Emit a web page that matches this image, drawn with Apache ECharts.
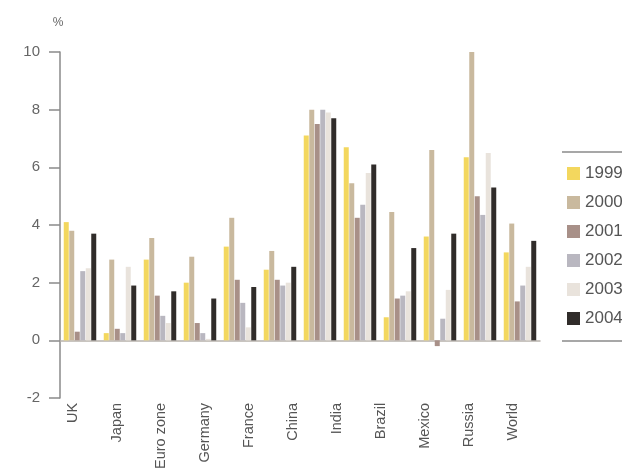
<!DOCTYPE html>
<html>
<head>
<meta charset="utf-8">
<script src="https://cdn.jsdelivr.net/npm/echarts@6/dist/echarts.min.js"></script>
<style>html,body{margin:0;padding:0;background:#fff;}#c{width:622px;height:472px;}</style>
</head>
<body>
<div id="c"></div>
<script>
// Bar groups (12 groups drawn) and the 11 tick labels printed under them
const groups = ['g1','g2','g3','g4','g5','g6','g7','g8','g9','g10','g11','g12'];
const tickLabels = ['UK','Japan','Euro zone','Germany','France','China','India','Brazil','Mexico','Russia','World'];
const years = ['1999','2000','2001','2002','2003','2004'];
const yTicks = { min: -2, max: 10, interval: 2 };

const v1999 = [4.1, 0.25, 2.8, 2.0, 3.25, 2.45, 7.1, 6.7, 0.8, 3.6, 6.35, 3.05];
const v2000 = [3.8, 2.8, 3.55, 2.9, 4.25, 3.1, 8.0, 5.45, 4.45, 6.6, 10.0, 4.05];
const v2001 = [0.3, 0.4, 1.55, 0.6, 2.1, 2.1, 7.5, 4.25, 1.45, -0.2, 5.0, 1.35];
const v2002 = [2.4, 0.25, 0.85, 0.25, 1.3, 1.9, 8.0, 4.7, 1.55, 0.75, 4.35, 1.9];
const v2003 = [2.5, 2.55, 0.6, 0.05, 0.45, 2.0, 7.9, 5.8, 1.7, 1.75, 6.5, 2.55];
const v2004 = [3.7, 1.9, 1.7, 1.45, 1.85, 2.55, 7.7, 6.1, 3.2, 3.7, 5.3, 3.45];
const seriesValues = [v1999, v2000, v2001, v2002, v2003, v2004];

const colors = ['#f3d75e', '#c9b99e', '#a89088', '#b9b7c0', '#e9e3dc', '#302c2a'];
const FONT = 'Liberation Sans, Arial, sans-serif';

const chart = echarts.init(document.getElementById('c'), null, { renderer: 'canvas' });
chart.setOption({
  animation: false,
  backgroundColor: '#ffffff',
  color: colors,
  grid: [
    { left: 60, top: 52, width: 480, height: 346 },
    { left: 51, top: 52, width: 484, height: 346 }
  ],
  xAxis: [
    {
      gridIndex: 0, type: 'category', data: groups,
      axisLine: { show: true, onZero: true, lineStyle: { color: '#b8b2ac', width: 1.5 } },
      axisTick: { show: false },
      axisLabel: { show: false },
      splitLine: { show: false }
    },
    {
      gridIndex: 1, type: 'category', data: tickLabels, position: 'bottom',
      axisLine: { show: false }, axisTick: { show: false }, splitLine: { show: false },
      axisLabel: { rotate: 90, margin: 11, fontSize: 14.5, color: '#555', fontFamily: FONT, interval: 0 }
    }
  ],
  yAxis: [
    {
      gridIndex: 0, type: 'value', min: yTicks.min, max: yTicks.max, interval: yTicks.interval,
      name: '%', nameLocation: 'end', nameGap: 23,
      nameTextStyle: { fontSize: 12, color: '#666', fontFamily: FONT, align: 'center', padding: [0, 4, 0, 0] },
      axisLine: { show: true, lineStyle: { color: '#8a8a8a', width: 1.5 } },
      axisTick: { show: true, length: 11, lineStyle: { color: '#8a8a8a', width: 1.5 } },
      axisLabel: { fontSize: 15, color: '#666', fontFamily: FONT, margin: 20 },
      splitLine: { show: false }
    },
    {
      gridIndex: 1, type: 'value', min: yTicks.min, max: yTicks.max, show: false
    }
  ],
  legend: {
    orient: 'vertical', left: 562, top: 160,
    data: years,
    icon: 'rect', itemWidth: 13, itemHeight: 13, itemGap: 12,
    textStyle: { fontSize: 17, color: '#555', fontFamily: FONT, lineHeight: 13 }
  },
  graphic: [
    { type: 'line', shape: { x1: 562, y1: 152, x2: 622, y2: 152 }, style: { stroke: '#8a8a8a', lineWidth: 1.5 } },
    { type: 'line', shape: { x1: 562, y1: 341, x2: 622, y2: 341 }, style: { stroke: '#8a8a8a', lineWidth: 1.5 } }
  ],
  series: years.map((y, i) => ({
    name: y, type: 'bar', xAxisIndex: 0, yAxisIndex: 0,
    data: seriesValues[i],
    barWidth: 5, barGap: '10%',
    itemStyle: { color: colors[i] }
  }))
});
</script>
</body>
</html>
